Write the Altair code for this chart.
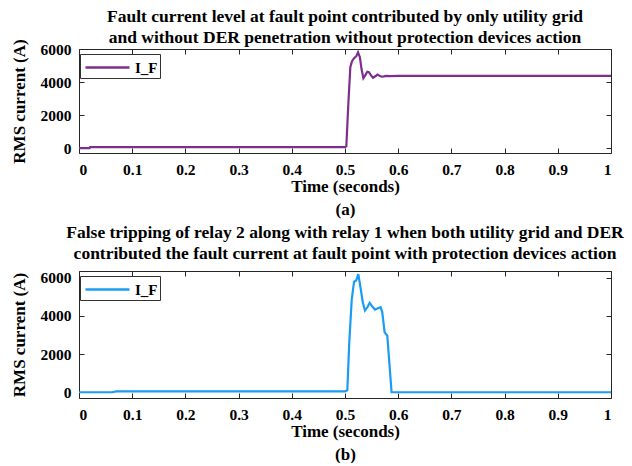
import altair as alt
import pandas as pd

# ---- data ----
t_a = [0, 0.02, 0.021, 0.5, 0.5025, 0.506, 0.510, 0.513, 0.517, 0.521, 0.5245, 0.528,
       0.531, 0.5345, 0.538, 0.542, 0.545, 0.549, 0.5526, 0.557, 0.5608, 0.565, 0.569,
       0.573, 0.577, 0.585, 0.6, 1.0]
i_a = [0, 0, 60, 60, 100, 2500, 4900, 5250, 5440, 5550, 5800, 5500, 4800, 4230, 4400,
       4620, 4600, 4400, 4260, 4350, 4450, 4380, 4320, 4340, 4370, 4360, 4370, 4370]

t_b = [0, 0.063, 0.07, 0.5, 0.5044, 0.508, 0.5126, 0.517, 0.521, 0.525, 0.5295, 0.5335,
       0.5376, 0.542, 0.5464, 0.551, 0.5564, 0.562, 0.567, 0.570, 0.5745, 0.5795,
       0.5835, 0.5875, 0.6, 1.0]
i_b = [0, 0, 50, 50, 100, 2600, 4840, 5790, 5850, 6190, 5420, 4700, 4280, 4450, 4680,
       4500, 4330, 4400, 4455, 4200, 3140, 2960, 1500, 0, 0, 0]

series = "I_F"
x_ticks = [0, 0.1, 0.2, 0.3, 0.4, 0.5, 0.6, 0.7, 0.8, 0.9, 1]
y_ticks = [0, 2000, 4000, 6000]

title_a = ["Fault current level at fault point contributed by only utility grid",
           "and without DER penetration without protection devices action"]
title_b = ["False tripping of relay 2 along with relay 1 when both utility grid and DER",
           "contributed the fault current at fault point with protection devices action"]

FONT = "Liberation Serif"


def panel(t, vals, color, y_domain, height, title, sub, toff):
    df = pd.DataFrame({"t": t, "v": vals, "s": [series] * len(t)})
    xs = alt.Scale(domain=[0, 1], nice=False, zero=False)
    ys = alt.Scale(domain=y_domain, nice=False, zero=False)
    base = alt.Chart(df)
    main = base.mark_line(strokeWidth=2.2, clip=True).encode(
        x=alt.X("t:Q", scale=xs,
                axis=alt.Axis(orient="bottom", values=x_ticks, format="~g",
                              title=["Time (seconds)", sub], titleLineHeight=23,
                              domain=False, tickSize=5, offset=-5,
                              labelPadding=9, titlePadding=1)),
        y=alt.Y("v:Q", scale=ys,
                axis=alt.Axis(orient="left", values=y_ticks, format="d",
                              title="RMS current (A)",
                              domain=False, tickSize=5, offset=-5,
                              labelPadding=8, titlePadding=12)),
        color=alt.Color("s:N", scale=alt.Scale(domain=[series], range=[color]),
                        legend=alt.Legend(title=None, orient="none", legendX=1,
                                          legendY=5, strokeColor="#333",
                                          fillColor="white", padding=2,
                                          symbolType="M-2.2,0H2.2", symbolSize=400,
                                          symbolStrokeWidth=2.5, symbolOffset=14,
                                          labelOffset=16,
                                          labelFontSize=15, labelFontWeight="bold",
                                          labelFont=FONT, labelColor="black")),
    )
    mirror = base.mark_line(opacity=0).encode(
        x=alt.X("t:Q", scale=xs,
                axis=alt.Axis(orient="top", values=x_ticks, labels=False, title=None,
                              domain=False, tickSize=5, offset=-5)),
        y=alt.Y("v:Q", scale=ys,
                axis=alt.Axis(orient="right", values=y_ticks, labels=False, title=None,
                              domain=False, tickSize=5, offset=-5)),
    )
    return alt.layer(main, mirror).properties(
        width=532, height=height,
        title=alt.TitleParams(text=title, font=FONT, fontSize=17.5, fontWeight="bold",
                              anchor="middle", lineHeight=21, offset=toff, color="black"),
    )


pa = panel(t_a, i_a, "#7E2F8E", [-300, 6000], 104, title_a, "(a)", -8)
pb = panel(t_b, i_b, "#1A9CF2", [-300, 6350], 127, title_b, "(b)", 8)

chart = alt.vconcat(pa, pb, spacing=5).resolve_scale(color="independent").properties(
    padding={"left": 9, "top": 7, "right": 0, "bottom": 0},
    background="white",
).configure_view(stroke="#262626", strokeWidth=1).configure_axis(
    labelFont=FONT, labelFontSize=15.5, labelFontWeight="bold", labelColor="black",
    titleFont=FONT, titleFontSize=17, titleFontWeight="bold", titleColor="black",
    tickColor="#262626", grid=False
)

chart.save("out.html", embed_options={"renderer": "svg", "actions": False})
